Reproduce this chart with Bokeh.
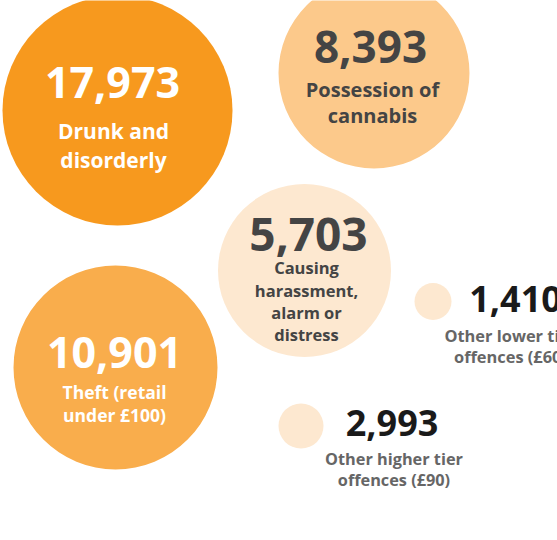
from bokeh.plotting import figure
from bokeh.models import ColumnDataSource, Range1d
from bokeh.core.properties import value
from bokeh.embed import file_html
from bokeh.resources import INLINE

# ---- data ----
categories = ["Drunk and disorderly", "Possession of cannabis",
              "Causing harassment, alarm or distress", "Theft (retail under £100)",
              "Other lower tier offences (£60)", "Other higher tier offences (£90)"]
counts = [17973, 8393, 5703, 10901, 1410, 2993]
label_lines = [["Drunk and", "disorderly"],
               ["Possession of", "cannabis"],
               ["Causing", "harassment,", "alarm or", "distress"],
               ["Theft (retail", "under £100)"],
               ["Other lower tier", "offences (£60)"],
               ["Other higher tier", "offences (£90)"]]

# ---- layout / style (screen-pixel coordinate system) ----
cx = [117, 373.5, 304, 115, 432.5, 300.5]
cy = [110, 72.5, 270, 367, 301, 425.5]
radius = [115, 95.5, 86.5, 102, 18.5, 22.5]
fill = ["#F7991E", "#FCC98B", "#FDE8D0", "#F9AD4C", "#FDE8D0", "#FDE8D0"]
num_x = [112, 370, 308, 114, 515, 391.5]
num_y = [99, 64, 252.5, 369, 313, 436.5]
num_size = [43, 44, 46, 43, 36, 36]
num_color = ["#FFFFFF", "#444444", "#444444", "#FFFFFF", "#1A1A1A", "#1A1A1A"]
lab_x = [113, 372, 306, 114, 510, 393.5]
lab_y0 = [139, 97, 274, 398, 342, 465]
lab_lh = [29, 26, 22.3, 23, 21, 21]
lab_size = [21, 20, 16.5, 17.5, 16.4, 16.3]
lab_color = ["#FFFFFF", "#444444", "#444444", "#FFFFFF", "#666666", "#666666"]
BASE_K = 0.4  # baseline correction (fraction of font size)

FONT = "Open Sans"
W, H = 557, 540

p = figure(width=W, height=H, output_backend="svg", toolbar_location=None,
           x_range=Range1d(0, W), y_range=Range1d(H, 0),
           min_border=0, outline_line_color=None, background_fill_color="white")
p.axis.visible = False
p.grid.visible = False

circ = ColumnDataSource(dict(x=cx, y=cy, r=radius, c=fill, cat=categories))
p.circle(x="x", y="y", radius="r", fill_color="c", line_color=None, source=circ)

nums = ColumnDataSource(dict(x=num_x, y=[y - BASE_K * s for y, s in zip(num_y, num_size)],
                             t=[f"{v:,}" for v in counts],
                             s=[f"{s}px" for s in num_size], c=num_color))
p.text(x="x", y="y", text="t", text_font_size="s", text_color="c", source=nums,
       text_font=value(FONT), text_font_style="bold", text_align="center",
       text_baseline="alphabetic")

lx, ly, lt, ls, lc = [], [], [], [], []
for i, lines in enumerate(label_lines):
    for j, line in enumerate(lines):
        lx.append(lab_x[i])
        ly.append(lab_y0[i] + j * lab_lh[i] - BASE_K * lab_size[i])
        lt.append(line)
        ls.append(f"{lab_size[i]}px")
        lc.append(lab_color[i])
labs = ColumnDataSource(dict(x=lx, y=ly, t=lt, s=ls, c=lc))
p.text(x="x", y="y", text="t", text_font_size="s", text_color="c", source=labs,
       text_font=value(FONT), text_font_style="bold", text_align="center",
       text_baseline="alphabetic")

open("out.html", "w").write(file_html(p, INLINE))
